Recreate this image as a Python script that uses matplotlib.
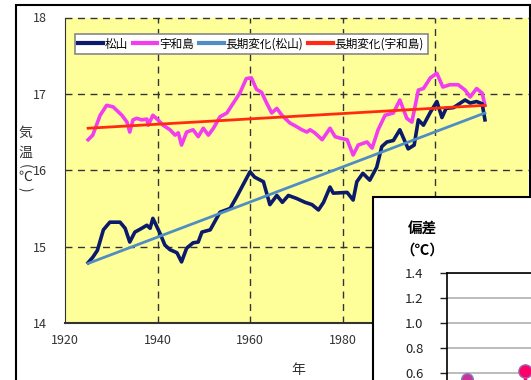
import matplotlib
matplotlib.use("Agg")
import matplotlib.pyplot as plt
from matplotlib.patches import Rectangle

plt.rcParams['font.family'] = ['Noto Sans CJK JP', 'DejaVu Sans']

# 11-year running means
matsu_years = [1925, 1926, 1927, 1928.3, 1929.7, 1931.9, 1933, 1934, 1935.1, 1936.6, 1937.7,
               1938.4, 1939, 1940.5, 1941.6, 1942.7, 1944.2, 1945.2, 1946.3, 1947.7, 1948.8,
               1949.6, 1951.4, 1953.5, 1955.7, 1957.1, 1958.5, 1960, 1961, 1962.9, 1964.3,
               1965.8, 1967, 1968.3, 1970.1, 1971.9, 1973.4, 1974.8, 1975.9, 1977.3, 1978,
               1981, 1982.3, 1983.1, 1984.4, 1985.9, 1987.4, 1988.5, 1989.6, 1991, 1992.4,
               1994.2, 1995.5, 1996.4, 1997.5, 1999, 2000.4, 2001.5, 2002.4, 2004, 2006.5,
               2007.6, 2009, 2010.2, 2010.8]
matsu_temp = [14.79, 14.86, 14.95, 15.22, 15.32, 15.32, 15.24, 15.06, 15.19, 15.24, 15.28,
              15.24, 15.37, 15.18, 15.02, 14.96, 14.92, 14.80, 14.98, 15.05, 15.06,
              15.19, 15.22, 15.45, 15.50, 15.65, 15.81, 15.98, 15.91, 15.85, 15.55,
              15.67, 15.58, 15.67, 15.63, 15.58, 15.55, 15.48, 15.58, 15.78, 15.70,
              15.71, 15.61, 15.85, 15.96, 15.87, 16.04, 16.31, 16.37, 16.39, 16.53,
              16.28, 16.33, 16.66, 16.59, 16.76, 16.90, 16.69, 16.81, 16.82, 16.92,
              16.88, 16.90, 16.87, 16.66]

uwa_years = [1925, 1926, 1927.6, 1929, 1930.4, 1932.3, 1933.4, 1934, 1934.7, 1935.5, 1936.6,
             1937.7, 1938, 1939, 1940.1, 1941.2, 1942.7, 1943.8, 1944.5, 1945.2, 1946.3,
             1947.7, 1948.8, 1949.9, 1951, 1952.1, 1953.5, 1955, 1956.4, 1957.8, 1959.2,
             1960.3, 1961.4, 1962.5, 1963.6, 1964.7, 1965.8, 1966.9, 1968.6, 1970.1, 1971.2,
             1972.3, 1973, 1974, 1975.6, 1977.3, 1978.4, 1979.5, 1981, 1982.3, 1983.4,
             1985.3, 1986.4, 1987.7, 1989.2, 1991, 1992.4, 1993.9, 1995, 1996.4, 1997.5,
             1999, 2000.4, 2001.7, 2003.2, 2005, 2006.5, 2007.6, 2009, 2010.2, 2010.8]
uwa_temp = [16.40, 16.46, 16.72, 16.85, 16.83, 16.72, 16.63, 16.50, 16.66, 16.68, 16.66,
            16.67, 16.59, 16.72, 16.66, 16.59, 16.53, 16.46, 16.49, 16.33, 16.50,
            16.53, 16.44, 16.55, 16.46, 16.55, 16.70, 16.75, 16.88, 17.01, 17.20,
            17.21, 17.06, 17.02, 16.88, 16.75, 16.81, 16.72, 16.62, 16.57, 16.53,
            16.50, 16.53, 16.49, 16.40, 16.55, 16.44, 16.42, 16.40, 16.20, 16.33,
            16.37, 16.29, 16.53, 16.72, 16.75, 16.92, 16.68, 16.63, 17.05, 17.07,
            17.21, 17.27, 17.09, 17.12, 17.12, 17.05, 16.96, 17.07, 17.01, 16.85]

trend_years = [1925, 2010.8]
matsu_trend = [14.78, 16.75]
uwa_trend = [16.55, 16.85]

x_ticks = [1920, 1940, 1960, 1980, 2000]
y_ticks = [14, 15, 16, 17, 18]

# inset (anomaly) values, partly visible
inset_x = [1, 2]
inset_vals = [0.55, 0.62]
inset_low = [0.3, 0.3]
inset_ticks = [0.6, 0.8, 1.0, 1.2, 1.4]

W, H = 531, 380


def box(l, t, r, b):
    return [l / W, 1 - b / H, (r - l) / W, (b - t) / H]


fig = plt.figure(figsize=(W / 100, H / 100), dpi=100)
fig.patches.append(Rectangle((16 / W, -0.1), (530 - 16) / W, 1 - 5 / H + 0.1,
                             transform=fig.transFigure, fill=False,
                             edgecolor='black', linewidth=1.5, zorder=0))

ax = fig.add_axes(box(65, 17.5, 527.5, 323))
ax.set_facecolor('#ffff99')
ax.plot(matsu_years, matsu_temp, color='#0b1a6b', lw=2.6, label='松山', zorder=4)
ax.plot(uwa_years, uwa_temp, color='#f23cf0', lw=2.6, label='宇和島', zorder=3)
ax.plot(trend_years, matsu_trend, color='#4f8dc2', lw=2, label='長期変化(松山)', zorder=5)
ax.plot(trend_years, uwa_trend, color='#ff2a10', lw=2, label='長期変化(宇和島)', zorder=5)
ax.set_xticks(x_ticks)
ax.set_yticks(y_ticks)
ax.set_xlim(1920, 2020)
ax.set_ylim(14, 18)
ax.tick_params(length=0, labelsize=9, colors='#333333')
ax.tick_params(axis='x', pad=8)
ax.tick_params(axis='y', pad=13)
for v in x_ticks[1:]:
    ax.axvline(v, color='#333333', lw=1, ls=(0, (5, 4)), zorder=1)
for v in y_ticks[1:]:
    ax.axhline(v, color='#333333', lw=1, ls=(0, (5, 4)), zorder=1, clip_on=False)
ax.spines['top'].set_visible(False)
ax.spines['right'].set_visible(False)
ax.spines['left'].set_color('#333333')
ax.spines['bottom'].set_color('#333333')
ax.spines['bottom'].set_linewidth(1.5)
leg = ax.legend(loc='upper left', bbox_to_anchor=(0.008, 0.965), ncol=4, fontsize=8.4,
                handlelength=2.1, handletextpad=0.15, columnspacing=0.45,
                borderpad=0.3, fancybox=False, framealpha=1, edgecolor='#888888')
leg.get_frame().set_linewidth(1.2)
for line in leg.get_lines():
    line.set_linewidth(3)

# vertical y label
for ch, yy, rot in [('気', 133, 0), ('温', 153, 0), ('(', 166, -90), ('℃', 177, 0), (')', 189, -90)]:
    fig.text(25 / W, 1 - yy / H, ch, fontsize=10, ha='center', va='center',
             rotation=rot, color='#333333')
fig.text(298 / W, 1 - 370 / H, '年', fontsize=10, ha='center', va='center', color='#333333')

# inset
fig.patches.append(Rectangle((373 / W, -0.1), 0.5, 1 - 197 / H + 0.1,
                             transform=fig.transFigure, facecolor='white',
                             edgecolor='black', linewidth=1.5, zorder=10))
fig.text(422 / W, 1 - 228 / H, '偏差', fontsize=10.5, fontweight='bold',
         ha='center', va='center', zorder=11)
fig.text(422 / W, 1 - 250 / H, '（℃）', fontsize=10.5, fontweight='bold',
         ha='center', va='center', zorder=11)

ia = fig.add_axes(box(447, 273, 600, 380 + 30), zorder=11)
ia.set_facecolor('white')
ia.vlines(inset_x[1:], inset_low[1:], inset_vals[1:], color='#ff0066', lw=2.5)
ia.scatter(inset_x[:1], inset_vals[:1], s=70, color='#cc3399', edgecolor='#8080c0', zorder=5)
ia.scatter(inset_x[1:], inset_vals[1:], s=90, color='#ff0066', edgecolor='#a060b0', zorder=5)
ia.set_yticks(inset_ticks)
ia.set_yticklabels(['%.1f' % v for v in inset_ticks])
ia.set_xticks([])
ia.set_ylim(1.4 - (380 + 30 - 273) / 125, 1.4)
ia.set_xlim(1 - 20 / 58, 1 + (600 - 467) / 58)
ia.yaxis.grid(True, color='#b0b0b0', lw=1.2)
ia.tick_params(axis='y', length=5, width=1, labelsize=9.5, pad=12, colors='#222222')
for s in ['right', 'bottom']:
    ia.spines[s].set_visible(False)
ia.spines['left'].set_linewidth(1.2)
ia.spines['top'].set_linewidth(1.2)

fig.savefig('out.png', dpi=100)
